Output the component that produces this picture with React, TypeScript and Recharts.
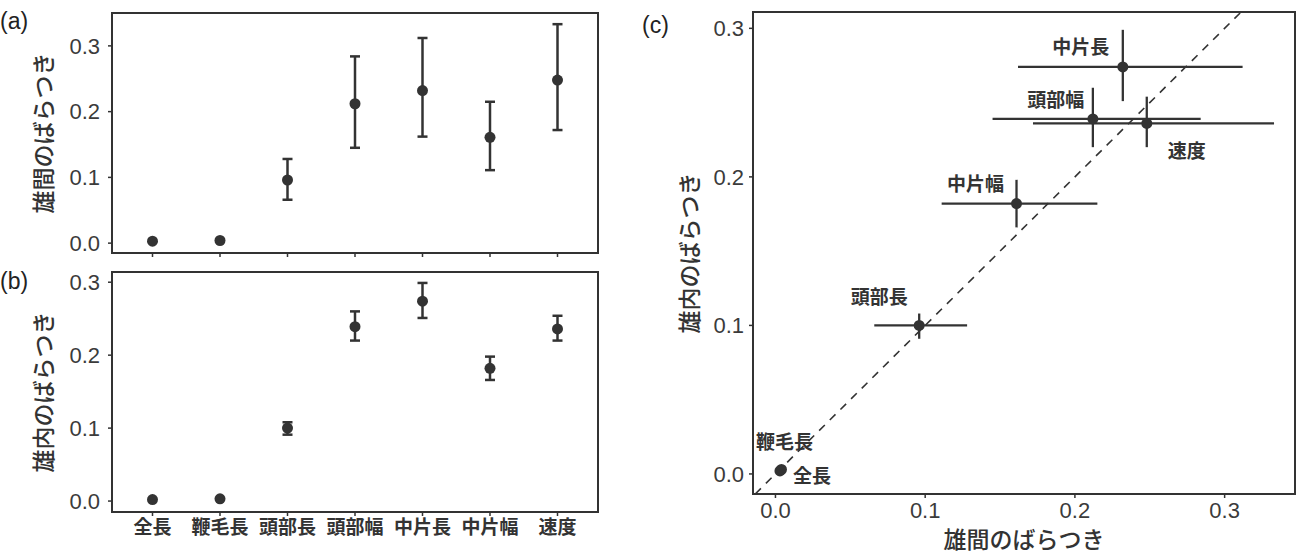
import React from "react";
import { ScatterChart, Scatter, XAxis, YAxis, ErrorBar, ReferenceArea, ReferenceLine } from "recharts";

// traits, in the order of the x axis of (a) and (b)
const categories = ["全長", "鞭毛長", "頭部長", "頭部幅", "中片長", "中片幅", "速度"];

// between-male variation (a) and its interval
const betweenMean = [0.003, 0.004, 0.096, 0.212, 0.232, 0.161, 0.248];
const betweenLow = [0.003, 0.004, 0.066, 0.145, 0.162, 0.111, 0.172];
const betweenHigh = [0.003, 0.004, 0.128, 0.284, 0.312, 0.215, 0.333];

// within-male variation (b) and its interval
const withinMean = [0.002, 0.003, 0.1, 0.239, 0.274, 0.182, 0.236];
const withinLow = [0.002, 0.003, 0.091, 0.22, 0.251, 0.166, 0.22];
const withinHigh = [0.002, 0.003, 0.108, 0.26, 0.299, 0.198, 0.254];

const valueTicks = [0, 0.1, 0.2, 0.3];

const INK = "#333333";
const NUM_FONT = "'Liberation Sans', Arial, sans-serif";
const JP_FONT = "'Noto Sans CJK JP', 'Noto Sans', sans-serif";

// label nudges for panel (c), pixels from the point
const labelNudge: Record<string, [number, number]> = {
  全長: [32, 4],
  鞭毛長: [3, -29],
  頭部長: [-40, -30],
  頭部幅: [-37, -20],
  中片長: [-42, -21],
  中片幅: [-41, -21],
  速度: [40, 26],
};

const err = (v: number, lo: number, hi: number) => (hi - lo > 0 ? [v - lo, hi - v] : undefined);

const betweenRows = categories.map((name, i) => ({
  idx: i + 1,
  name,
  value: betweenMean[i],
  err: err(betweenMean[i], betweenLow[i], betweenHigh[i]),
}));

const withinRows = categories.map((name, i) => ({
  idx: i + 1,
  name,
  value: withinMean[i],
  err: err(withinMean[i], withinLow[i], withinHigh[i]),
}));

const scatterRows = categories.map((name, i) => ({
  name,
  x: betweenMean[i],
  y: withinMean[i],
  xErr: err(betweenMean[i], betweenLow[i], betweenHigh[i]),
  yErr: err(withinMean[i], withinLow[i], withinHigh[i]),
}));

const catTicks = categories.map((_, i) => i + 1);
const catDomain = [0.4, categories.length + 0.6];
const aDomain = [-0.015, 0.35];
const bDomain = [-0.015, 0.314];
const cxDomain = [-0.015, 0.347];
const cyDomain = [-0.0135, 0.311];

const numTick = { fill: "#3b3b3b", fontSize: 22, fontFamily: NUM_FONT };
const tickLine = { stroke: INK, strokeWidth: 1.5 };
const fmt = (v: number) => v.toFixed(1);

const Dot = (p: any) => <circle cx={p.cx} cy={p.cy} r={5.5} fill={INK} />;

const LabeledDot = (p: any) => {
  const [dx, dy] = labelNudge[p.payload.name] || [0, 0];
  return (
    <g>
      <circle cx={p.cx} cy={p.cy} r={5.5} fill={INK} />
      <text
        x={p.cx + dx}
        y={p.cy + dy}
        textAnchor="middle"
        dominantBaseline="central"
        fontSize={19}
        fontWeight={700}
        fontFamily={JP_FONT}
        fill={INK}
      >
        {p.payload.name}
      </text>
    </g>
  );
};

function Border({ x, y }: { x: number[]; y: number[] }) {
  return (
    <ReferenceArea
      x1={x[0]}
      x2={x[1]}
      y1={y[0]}
      y2={y[1]}
      fill="none"
      fillOpacity={0}
      stroke={INK}
      strokeWidth={2}
      ifOverflow="visible"
    />
  );
}

function Tag({ text, left, top }: { text: string; left: number; top: number }) {
  return (
    <div
      style={{
        position: "absolute",
        left,
        top,
        transform: "translateY(-50%)",
        fontFamily: NUM_FONT,
        fontSize: 23,
        color: "#222",
        lineHeight: 1,
      }}
    >
      {text}
    </div>
  );
}

function Title({ text, cx, cy, vertical }: { text: string; cx: number; cy: number; vertical?: boolean }) {
  return (
    <div
      style={{
        position: "absolute",
        left: cx,
        top: cy,
        transform: vertical ? "translate(-50%,-50%) rotate(-90deg)" : "translate(-50%,-50%)",
        whiteSpace: "nowrap",
        fontFamily: JP_FONT,
        fontSize: 23,
        fontWeight: 500,
        color: INK,
        lineHeight: 1,
      }}
    >
      {text}
    </div>
  );
}

function PanelA() {
  return (
    <div style={{ position: "absolute", left: 0, top: 0 }}>
      <ScatterChart width={610} height={262} margin={{ top: 13, right: 12, bottom: 0, left: 0 }}>
        <XAxis
          type="number"
          dataKey="idx"
          domain={catDomain}
          ticks={catTicks}
          interval={0}
          allowDataOverflow
          height={9}
          axisLine={false}
          tickLine={tickLine}
          tickSize={4}
          tickFormatter={() => ""}
        />
        <YAxis
          type="number"
          dataKey="value"
          domain={aDomain}
          ticks={valueTicks}
          interval={0}
          allowDataOverflow
          width={112}
          axisLine={false}
          tickLine={tickLine}
          tickSize={4}
          tickMargin={8}
          tick={numTick}
          tickFormatter={fmt}
        />
        <Border x={catDomain} y={aDomain} />
        <Scatter data={betweenRows} isAnimationActive={false} shape={Dot}>
          <ErrorBar dataKey="err" direction="y" width={5} stroke={INK} strokeWidth={2.5} isAnimationActive={false} />
        </Scatter>
      </ScatterChart>
    </div>
  );
}

function PanelB() {
  return (
    <div style={{ position: "absolute", left: 0, top: 260 }}>
      <ScatterChart width={610} height={293} margin={{ top: 12, right: 12, bottom: 0, left: 0 }}>
        <XAxis
          type="number"
          dataKey="idx"
          domain={catDomain}
          ticks={catTicks}
          interval={0}
          allowDataOverflow
          height={41}
          axisLine={false}
          tickLine={tickLine}
          tickSize={4}
          tickMargin={5}
          tick={{ fill: INK, fontSize: 19, fontWeight: 700, fontFamily: JP_FONT }}
          tickFormatter={(v: number) => categories[v - 1]}
        />
        <YAxis
          type="number"
          dataKey="value"
          domain={bDomain}
          ticks={valueTicks}
          interval={0}
          allowDataOverflow
          width={112}
          axisLine={false}
          tickLine={tickLine}
          tickSize={4}
          tickMargin={8}
          tick={numTick}
          tickFormatter={fmt}
        />
        <Border x={catDomain} y={bDomain} />
        <Scatter data={withinRows} isAnimationActive={false} shape={Dot}>
          <ErrorBar dataKey="err" direction="y" width={5} stroke={INK} strokeWidth={2.5} isAnimationActive={false} />
        </Scatter>
      </ScatterChart>
    </div>
  );
}

function PanelC() {
  return (
    <div style={{ position: "absolute", left: 640, top: 0 }}>
      <ScatterChart width={658} height={553} margin={{ top: 12, right: 3, bottom: 0, left: 0 }}>
        <XAxis
          type="number"
          dataKey="x"
          domain={cxDomain}
          ticks={valueTicks}
          interval={0}
          allowDataOverflow
          height={59}
          axisLine={false}
          tickLine={tickLine}
          tickSize={4}
          tickMargin={4}
          tick={numTick}
          tickFormatter={fmt}
        />
        <YAxis
          type="number"
          dataKey="y"
          domain={cyDomain}
          ticks={valueTicks}
          interval={0}
          allowDataOverflow
          width={113}
          axisLine={false}
          tickLine={tickLine}
          tickSize={4}
          tickMargin={5}
          tick={numTick}
          tickFormatter={fmt}
        />
        <Border x={cxDomain} y={cyDomain} />
        <ReferenceLine
          segment={[
            { x: cyDomain[0], y: cyDomain[0] },
            { x: cyDomain[1], y: cyDomain[1] },
          ]}
          stroke={INK}
          strokeWidth={1.6}
          strokeDasharray="8 7"
          ifOverflow="visible"
        />
        <Scatter data={scatterRows} isAnimationActive={false} shape={LabeledDot}>
          <ErrorBar dataKey="xErr" direction="x" width={0} stroke={INK} strokeWidth={2.3} isAnimationActive={false} />
          <ErrorBar dataKey="yErr" direction="y" width={0} stroke={INK} strokeWidth={2.3} isAnimationActive={false} />
        </Scatter>
      </ScatterChart>
    </div>
  );
}

export default function App() {
  return (
    <div style={{ position: "absolute", left: 0, top: 0, width: 1298, height: 553, background: "#fff" }}>
      <PanelA />
      <PanelB />
      <PanelC />
      <Tag text="(a)" left={0} top={21} />
      <Tag text="(b)" left={0} top={281} />
      <Tag text="(c)" left={642} top={25} />
      <Title text="雄間のばらつき" cx={42} cy={133} vertical />
      <Title text="雄内のばらつき" cx={42} cy={392} vertical />
      <Title text="雄内のばらつき" cx={688} cy={253} vertical />
      <Title text="雄間のばらつき" cx={1024} cy={538} />
    </div>
  );
}
